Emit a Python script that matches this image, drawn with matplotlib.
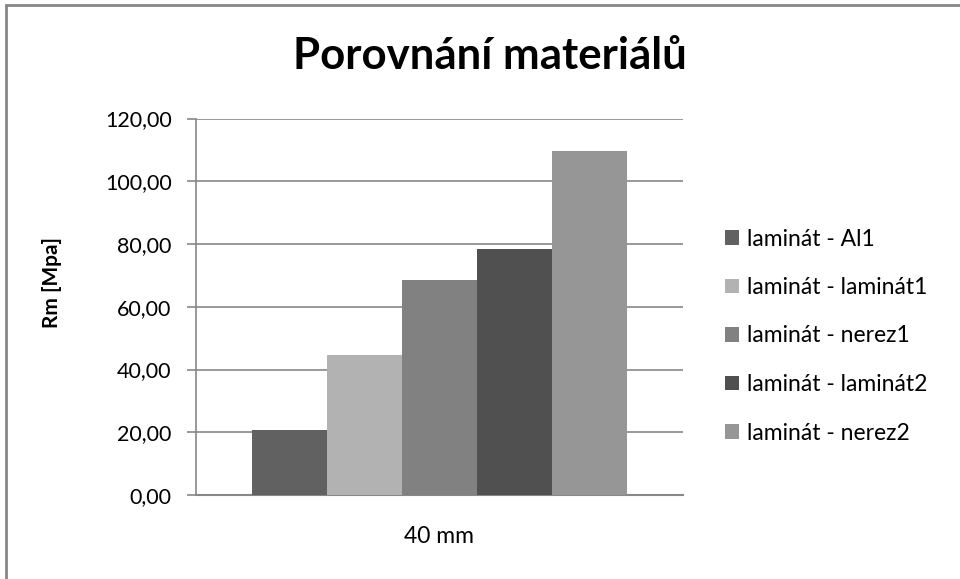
import matplotlib
matplotlib.use("Agg")
import matplotlib.pyplot as plt
from matplotlib.patches import Rectangle

series = ["laminát - Al1", "laminát - laminát1", "laminát - nerez1",
          "laminát - laminát2", "laminát - nerez2"]
values = [20.7, 44.6, 68.5, 78.3, 109.6]
colors = ["#616161", "#b2b2b2", "#818181", "#505050", "#969696"]
category = "40 mm"
yticks = [0, 20, 40, 60, 80, 100, 120]

plt.rcParams["font.family"] = ["Lato", "DejaVu Sans"]

fig = plt.figure(figsize=(9.6, 5.79), dpi=100)
fig.patch.set_facecolor("white")

# chart-area frame
fig.add_artist(Rectangle((6 / 960, -0.05), 1.1, 1 - 5 / 579 + 0.05,
                         transform=fig.transFigure, fill=False,
                         edgecolor="#878787", linewidth=2))

ax = fig.add_axes([196 / 960, 1 - 495 / 579, (683 - 196) / 960, (495 - 118.5) / 579])

n = len(values)
bar_w = 1.0 / (n + 1.5)
start = -n * bar_w / 2
for i, (v, c, s) in enumerate(zip(values, colors, series)):
    ax.bar(start + bar_w * (i + 0.5), v, width=bar_w, color=c, label=s, zorder=3)

ax.set_xlim(-0.5, 0.5)
ax.set_ylim(0, 120)
ax.set_yticks(yticks)
ax.set_yticklabels([f"{t:.2f}".replace(".", ",") for t in yticks], fontsize=15.5)
ax.set_xticks([0])
ax.set_xticklabels([category], fontsize=16.5)
ax.tick_params(axis="x", length=0, pad=22)
ax.tick_params(axis="y", length=6.5, color="#878787", width=1.2, pad=11)
ax.yaxis.grid(True, color="#878787", linewidth=1.2, zorder=0)

for sp in ["top", "right"]:
    ax.spines[sp].set_visible(False)
ax.spines["left"].set_color("#878787")
ax.spines["bottom"].set_color("#878787")
ax.spines["left"].set_linewidth(1.2)
ax.spines["bottom"].set_linewidth(1.5)

ax.set_ylabel("Rm [Mpa]", fontsize=15, fontweight="bold")
ax.yaxis.set_label_coords(62 / 960, 1 - 282 / 579, transform=fig.transFigure)

fig.text(490 / 960, 1 - 69 / 579, "Porovnání materiálů", fontsize=31.5,
         fontweight="bold", ha="center", va="baseline")

handles, labels = ax.get_legend_handles_labels()
fig.legend(handles, labels, loc="center left", bbox_to_anchor=(725 / 960, 1 - 336 / 579),
           frameon=False, fontsize=16.5, handlelength=0.61, handleheight=0.61,
           handletextpad=0.35, labelspacing=1.2, borderpad=0, borderaxespad=0)

fig.savefig("out.png", dpi=100)
